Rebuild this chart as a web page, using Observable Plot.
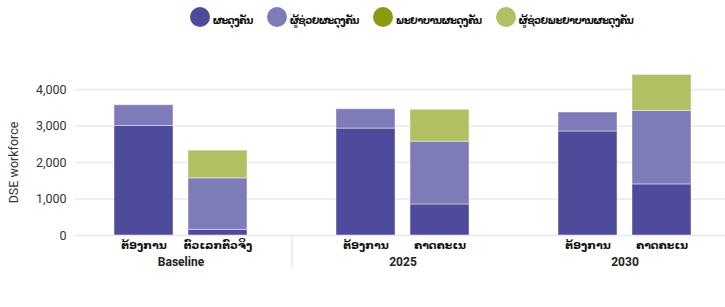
<!DOCTYPE html>
<html>
<head>
<meta charset="utf-8">
<script src="https://cdn.jsdelivr.net/npm/d3@7"></script>
<script src="https://cdn.jsdelivr.net/npm/@observablehq/plot@0.6"></script>
<style>
  body { margin: 0; background: #fff; font-family: Roboto, "DejaVu Sans", sans-serif; }
  #legend { height: 40px; width: 725px; box-sizing: border-box; padding: 7px 0 0 98px; display: flex; justify-content: center; gap: 14px; }
  .item { display: flex; align-items: center; height: 20px; }
  .sw { width: 20px; height: 20px; border-radius: 50%; margin-right: 3px; flex: none; }
  .lb { font-family: "DejaVu Sans", sans-serif; font-weight: bold; font-size: 10px; letter-spacing: -0.6px; color: #111; margin-top: 7px; white-space: nowrap; }
</style>
</head>
<body>
<div id="legend"></div>
<div id="chart"></div>
<script>
// ---- data ----
const seriesNames = ["ຜະດຸງຄັນ", "ຜູ້ຊ່ວຍຜະດຸງຄັນ", "ພະຍາບານຜະດຸງຄັນ", "ຜູ້ຊ່ວຍພະຍາບານຜະດຸງຄັນ"];
const seriesColors = ["#4e4a9c", "#7d7bb8", "#8a9b12", "#b3bf63"];
const barKeys = ["b0", "b1", "b2", "b3", "b4", "b5"];
const categoryLabels = ["ຕ້ອງການ", "ຕົວເລກຕົວຈິງ", "ຕ້ອງການ", "ຄາດຄະເນ", "ຕ້ອງການ", "ຄາດຄະເນ"];
const slotKeys = ["b0", "b1", "s1", "b2", "b3", "s2", "b4", "b5"];
const groupLabels = ["Baseline", "2025", "2030"];
const groupFirstKey = ["b0", "b2", "b4"];
const midwife = [3000, 155, 2930, 850, 2850, 1400];
const assistantMidwife = [570, 1410, 530, 1720, 520, 2015];
const nurseMidwife = [0, 0, 0, 0, 0, 0];
const assistantNurseMidwife = [0, 760, 0, 875, 0, 985];
const yTicks = [0, 1000, 2000, 3000, 4000];

const seriesValues = [midwife, assistantMidwife, nurseMidwife, assistantNurseMidwife];
const table = [];
seriesNames.forEach((s, j) => {
  barKeys.forEach((k, i) => {
    const v = seriesValues[j][i];
    if (v > 0) table.push({key: k, series: s, value: v});
  });
});
const labelOf = Object.fromEntries(barKeys.map((k, i) => [k, categoryLabels[i]]));
const groups = groupLabels.map((g, i) => ({label: g, key: groupFirstKey[i]}));

// legend
const legend = document.getElementById("legend");
seriesNames.forEach((s, i) => {
  const d = document.createElement("div");
  d.className = "item";
  d.innerHTML = `<div class="sw" style="background:${seriesColors[i]}"></div><span class="lb">${s}</span>`;
  legend.appendChild(d);
});

const chart = Plot.plot({
  width: 725,
  height: 267,
  marginLeft: 75,
  marginRight: 0,
  marginTop: 49,
  marginBottom: 72,
  style: {fontFamily: "Roboto, 'DejaVu Sans', sans-serif", fontSize: "12px", color: "#333"},
  x: {domain: slotKeys, range: [75, 729], paddingInner: 0.206, paddingOuter: 0.5},
  y: {domain: [0, 4000]},
  color: {domain: seriesNames, range: seriesColors},
  marks: [
    Plot.ruleY(yTicks, {stroke: "#e8e8e8", strokeWidth: 1.5}),
    Plot.barY(table, {x: "key", y: "value", fill: "series", order: seriesNames, stroke: "#ffffff", strokeOpacity: 0.45, strokeWidth: 1}),
    Plot.ruleX(["s1"], {x: d => d, stroke: "#dddddd", insetTop: 146, insetBottom: -33}),
    Plot.axisY({ticks: yTicks, tickFormat: d3.format(","), tickSize: 0, tickPadding: 9, label: "DSE workforce", labelAnchor: "center", labelArrow: "none", labelOffset: 66, fontSize: 12.5, fill: "#333"}),
    Plot.axisX({ticks: barKeys, tickFormat: k => labelOf[k], tickSize: 0, tickPadding: 6, label: null, fontFamily: "'DejaVu Sans', sans-serif", fontWeight: "bold", fontSize: 11, fill: "#111"}),
    Plot.text(groups, {x: "key", text: "label", frameAnchor: "bottom", dx: 37, dy: 30, fontWeight: "bold", fontSize: 12, fill: "#222"})
  ]
});
document.getElementById("chart").appendChild(chart);
</script>
</body>
</html>
